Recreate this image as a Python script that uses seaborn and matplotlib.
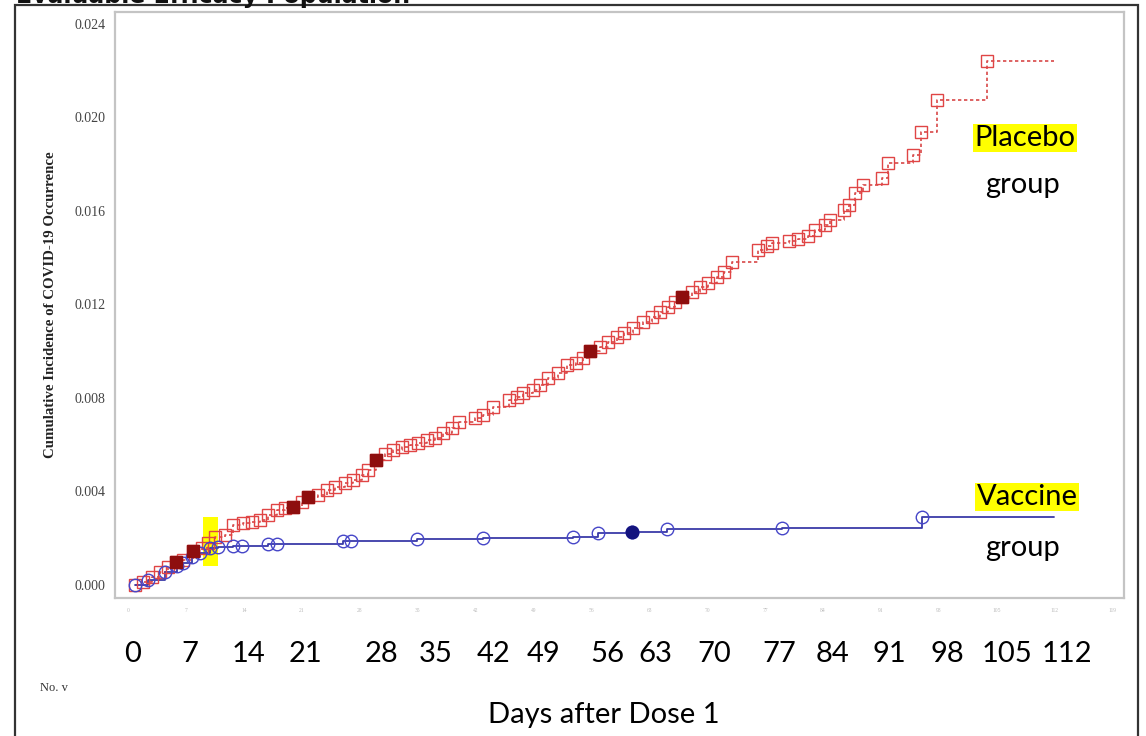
import pandas as pd
import seaborn as sns
import matplotlib.pyplot as plt
from matplotlib.patches import Rectangle
from matplotlib.transforms import blended_transform_factory

# cumulative incidence
placebo_days = [0.8, 1.8, 2.9, 3.9, 4.8, 5.8, 6.7, 7.9, 9.0, 9.7,
                10.5, 11.7, 12.7, 13.9, 15.0, 16.0, 16.9, 18.0, 19.0, 20.0,
                21.0, 21.8, 23.0, 24.1, 25.0, 26.2, 27.2, 28.3, 29.0, 30.0,
                31.1, 32.0, 33.1, 34.1, 35.1, 36.2, 37.1, 38.1, 39.2, 40.0,
                42.0, 42.9, 44.1, 46.0, 47.0, 47.8, 49.0, 49.8, 50.8, 52.0,
                53.1, 54.1, 55.0, 55.9, 57.1, 58.0, 59.1, 59.9, 61.1, 62.3,
                63.4, 64.3, 65.3, 66.1, 67.0, 68.2, 69.2, 70.1, 71.2, 72.0,
                73.0, 76.1, 77.3, 77.9, 79.9, 81.0, 82.2, 83.1, 84.3, 84.9,
                86.5, 87.1, 87.9, 88.9, 91.2, 91.9, 94.9, 95.9, 97.8, 103.8]
placebo_inc = [0.0, 0.00013, 0.00034, 0.00056, 0.00077, 0.00098, 0.00107, 0.00145, 0.00158, 0.00180,
               0.00205, 0.00214, 0.00257, 0.00265, 0.00270, 0.00278, 0.00299, 0.00321, 0.00329, 0.00334,
               0.00355, 0.00376, 0.00385, 0.00406, 0.00419, 0.00436, 0.00449, 0.00471, 0.00492, 0.00535,
               0.00560, 0.00578, 0.00590, 0.00599, 0.00607, 0.00620, 0.00629, 0.00650, 0.00672, 0.00698,
               0.00712, 0.00725, 0.00762, 0.00791, 0.00804, 0.00821, 0.00834, 0.00856, 0.00886, 0.00907,
               0.00941, 0.00950, 0.00971, 0.01001, 0.01018, 0.01040, 0.01061, 0.01078, 0.01099, 0.01125,
               0.01147, 0.01168, 0.01189, 0.01211, 0.01232, 0.01253, 0.01275, 0.01292, 0.01318, 0.01339,
               0.01382, 0.01433, 0.01450, 0.01463, 0.01470, 0.01478, 0.01493, 0.01519, 0.01540, 0.01561,
               0.01604, 0.01626, 0.01677, 0.01711, 0.01741, 0.01805, 0.01840, 0.01938, 0.02075, 0.02242]
placebo_solid_days = [5.8, 7.9, 20.0, 21.8, 30.0, 55.9, 67.0]
placebo_solid_inc = [0.00098, 0.00145, 0.00334, 0.00376, 0.00535, 0.01001, 0.01232]

vaccine_days = [0.8, 2.4, 4.5, 5.9, 6.7, 7.7, 8.7, 9.9, 10.9, 12.7, 13.8, 16.9,
                18.0, 26.0, 27.0, 34.9, 42.9, 53.8, 56.8, 60.9, 65.1, 79.0, 96.0]
vaccine_inc = [0.0, 0.00021, 0.00056, 0.00081, 0.00094, 0.00120, 0.00137, 0.00158, 0.00163, 0.00165, 0.00167, 0.00174,
               0.00176, 0.00187, 0.00189, 0.00197, 0.00201, 0.00205, 0.00222, 0.00227, 0.00240, 0.00244, 0.00291]
vaccine_solid_days = [60.9]
vaccine_solid_inc = [0.00227]

follow_up_end = 111.9

tick_days = list(range(0, 120, 7))
y_ticks = [0.0, 0.004, 0.008, 0.012, 0.016, 0.020, 0.024]
big_labels = ['0', '7', '14', '21', '28', '35', '42', '49', '56', '63', '70', '77', '84', '91', '98', '105', '112']
big_label_days = [0.6, 7.5, 14.6, 21.4, 30.6, 37.2, 44.2, 50.2, 57.9, 63.7, 70.9, 78.7, 85.2, 92.0, 99.0, 106.2, 113.5]

# yellow highlighter stroke near day 10
marker_days = [9.1, 10.9]
marker_inc = (0.0008, 0.0029)

assert len(placebo_days) == len(placebo_inc)
assert len(vaccine_days) == len(vaccine_inc)

placebo_line = pd.DataFrame({'day': placebo_days + [follow_up_end], 'inc': placebo_inc + [placebo_inc[-1]]})
vaccine_line = pd.DataFrame({'day': vaccine_days + [follow_up_end], 'inc': vaccine_inc + [vaccine_inc[-1]]})
placebo_pts = pd.DataFrame({'day': placebo_days, 'inc': placebo_inc})
vaccine_pts = pd.DataFrame({'day': vaccine_days, 'inc': vaccine_inc})
placebo_solid = pd.DataFrame({'day': placebo_solid_days, 'inc': placebo_solid_inc})
vaccine_solid = pd.DataFrame({'day': vaccine_solid_days, 'inc': vaccine_solid_inc})

sns.set_style('white')
big_font = ['Lato', 'DejaVu Sans']
serif_font = ['Liberation Serif', 'DejaVu Serif']

fig = plt.figure(figsize=(11.46, 7.36), dpi=100)
ax = fig.add_axes([115 / 1146, 1 - 598 / 736, (1124 - 115) / 1146, (598 - 12) / 736])

ax.fill_between(marker_days, marker_inc[0], marker_inc[1], color='#FFFF00', lw=0, zorder=1)

sns.lineplot(data=placebo_line, x='day', y='inc', ax=ax, drawstyle='steps-post', estimator=None,
             color='#D84848', lw=1.2, linestyle=(0, (2, 1.6)), zorder=2)
sns.lineplot(data=vaccine_line, x='day', y='inc', ax=ax, drawstyle='steps-post', estimator=None,
             color='#3A3AA8', lw=1.3, zorder=2)

sns.lineplot(data=placebo_pts, x='day', y='inc', ax=ax, estimator=None, linestyle='none',
             marker='s', markersize=8.5, markerfacecolor='none', markeredgecolor='#E04545',
             markeredgewidth=1.0, zorder=3)
sns.lineplot(data=placebo_solid, x='day', y='inc', ax=ax, estimator=None, linestyle='none',
             marker='s', markersize=8.5, markerfacecolor='#8E0E0E', markeredgecolor='#8E0E0E',
             markeredgewidth=1.0, zorder=4)
sns.lineplot(data=vaccine_pts, x='day', y='inc', ax=ax, estimator=None, linestyle='none',
             marker='o', markersize=9, markerfacecolor='none', markeredgecolor='#4646C8',
             markeredgewidth=1.0, zorder=3)
sns.lineplot(data=vaccine_solid, x='day', y='inc', ax=ax, estimator=None, linestyle='none',
             marker='o', markersize=9, markerfacecolor='#14147E', markeredgecolor='#14147E',
             markeredgewidth=1.0, zorder=4)

ax.set_xlim(-1.57, 120.4)
ax.set_ylim(-0.00056, 0.02451)
ax.set_xticks(tick_days)
ax.set_xticklabels([str(d) for d in tick_days], fontsize=4, color='#BBBBBB', family=serif_font)
ax.set_yticks(y_ticks)
ax.set_yticklabels([f'{v:.3f}' for v in y_ticks], fontsize=10, color='#444444', family=serif_font)
ax.tick_params(axis='both', direction='out', length=4, width=0.8, color='#999999', pad=3)
ax.tick_params(axis='x', length=5, pad=2)
ax.set_xlabel('')
ax.set_ylabel('Cumulative Incidence of COVID-19 Occurrence', fontsize=10.7, fontweight='bold',
              color='#222222', family=serif_font, labelpad=12)
for sp in ax.spines.values():
    sp.set_color('#C4C4C4')
    sp.set_linewidth(1.6)

# big day labels typed over the original axis
tr = blended_transform_factory(ax.transData, fig.transFigure)
for lab, d in zip(big_labels, big_label_days):
    ax.text(d, 1 - 662 / 736, lab, transform=tr, ha='center', va='baseline',
            fontsize=21, family=big_font, color='black', clip_on=False)

fig.text(604 / 1146, 1 - 723 / 736, 'Days after Dose 1', ha='center', va='baseline',
         fontsize=21, family=big_font, color='black')
fig.text(40 / 1146, 1 - 691 / 736, 'No. v', ha='left', va='baseline', fontsize=9,
         family=serif_font, color='#333333')

fig.text(1025 / 1146, 1 - 146 / 736, 'Placebo', ha='center', va='baseline', fontsize=21,
         family=big_font, color='black',
         bbox=dict(facecolor='#FFFF00', edgecolor='none', pad=1))
fig.text(1023 / 1146, 1 - 193 / 736, 'group', ha='center', va='baseline', fontsize=21,
         family=big_font, color='black')
fig.text(1027 / 1146, 1 - 505 / 736, 'Vaccine', ha='center', va='baseline', fontsize=21,
         family=big_font, color='black',
         bbox=dict(facecolor='#FFFF00', edgecolor='none', pad=1))
fig.text(1023 / 1146, 1 - 556 / 736, 'group', ha='center', va='baseline', fontsize=21,
         family=big_font, color='black')

# title cut off at the top of the scan
fig.text(16 / 1146, 1 - 3 / 736, 'Evaluable Efficacy Population', ha='left', va='baseline',
         fontsize=17, fontweight='bold', family=['DejaVu Sans'], color='#111111')

# outer frame of the scanned page
fig.add_artist(Rectangle((14.5 / 1146, -0.02), (1137.5 - 14.5) / 1146, (731 / 736) + 0.02,
                         transform=fig.transFigure, fill=False, edgecolor='#333333', lw=1.6))

fig.savefig('out.png', dpi=100)
